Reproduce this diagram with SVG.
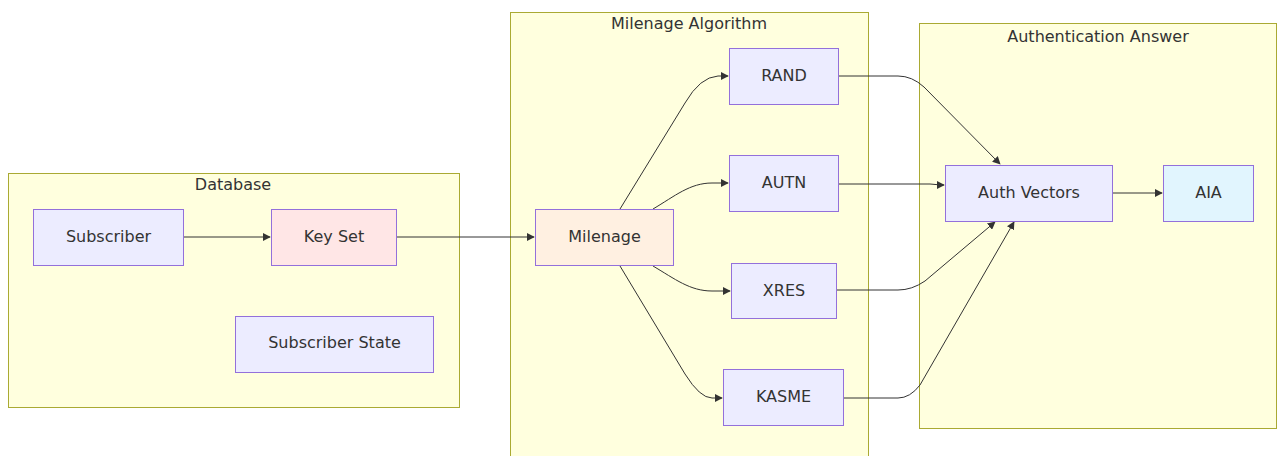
<svg xmlns="http://www.w3.org/2000/svg" width="1277" height="456" viewBox="0 0 1277 456">
<style>
.cluster{fill:#ffffde;stroke:#aaaa33;stroke-width:1}
.node{fill:#ececff;stroke:#9370db;stroke-width:1}
.t{font-family:"DejaVu Sans","Liberation Sans",sans-serif;font-size:16px;fill:#333;text-anchor:middle}
.e{fill:none;stroke:#333;stroke-width:1;marker-end:url(#arr)}
</style>
<defs>
<marker id="arr" viewBox="0 0 10 10" refX="9" refY="5" markerWidth="8" markerHeight="8" markerUnits="userSpaceOnUse" orient="auto">
<path d="M0,0 L10,5 L0,10 z" fill="#333"/>
</marker>
</defs>
<rect width="1277" height="456" fill="#fff"/>
<g id="cluster-database">
<rect class="cluster" x="8.5" y="173.5" width="451" height="234"/>
<text class="t" x="233" y="190">Database</text>
</g>
<g id="cluster-milenage">
<rect class="cluster" x="510.5" y="12.5" width="358" height="470"/>
<text class="t" x="689" y="29">Milenage Algorithm</text>
</g>
<g id="cluster-auth">
<rect class="cluster" x="919.5" y="23.5" width="357" height="405"/>
<text class="t" x="1098" y="42">Authentication Answer</text>
</g>
<g id="edges">
<path class="e" d="M183,237 L270,237"/>
<path class="e" d="M396,237 L534,237"/>
<path class="e" d="M620,209 L685,103 Q700,77 718,76 L728,76"/>
<path class="e" d="M653,209 C675,196 690,183 712,183 L728,183"/>
<path class="e" d="M653,266 C675,279 690,291 712,291 L730,291"/>
<path class="e" d="M620,266 L685,374 Q700,398 712,398 L722,398"/>
<path class="e" d="M838,76 L898,76 Q912,76 924,87 L1000,164"/>
<path class="e" d="M838,184 L930,184 Q940,185 944,185"/>
<path class="e" d="M836,290 L898,290 Q912,290 925,281 L995,222"/>
<path class="e" d="M843,398 L898,398 Q910,398 920,385 L1014,222"/>
<path class="e" d="M1113,193 L1162,193"/>
</g>
<g id="node-subscriber">
<rect class="node" x="33.5" y="209.5" width="150" height="56"/>
<text class="t" x="108.5" y="242">Subscriber</text>
</g>
<g id="node-keyset">
<rect class="node" x="271.5" y="209.5" width="125" height="56" style="fill:#ffe6e6"/>
<text class="t" x="334" y="242">Key Set</text>
</g>
<g id="node-substate">
<rect class="node" x="235.5" y="316.5" width="198" height="56"/>
<text class="t" x="334.5" y="348">Subscriber State</text>
</g>
<g id="node-milenage">
<rect class="node" x="535.5" y="209.5" width="138" height="56" style="fill:#fff0e1"/>
<text class="t" x="604.5" y="242">Milenage</text>
</g>
<g id="node-rand">
<rect class="node" x="729.5" y="48.5" width="109" height="56"/>
<text class="t" x="784" y="81">RAND</text>
</g>
<g id="node-autn">
<rect class="node" x="729.5" y="155.5" width="109" height="56"/>
<text class="t" x="784" y="188">AUTN</text>
</g>
<g id="node-xres">
<rect class="node" x="731.5" y="263.5" width="105" height="55"/>
<text class="t" x="784" y="296">XRES</text>
</g>
<g id="node-kasme">
<rect class="node" x="723.5" y="369.5" width="120" height="56"/>
<text class="t" x="783.5" y="402">KASME</text>
</g>
<g id="node-authvectors">
<rect class="node" x="945.5" y="165.5" width="167" height="56"/>
<text class="t" x="1029" y="198">Auth Vectors</text>
</g>
<g id="node-aia">
<rect class="node" x="1163.5" y="165.5" width="90" height="56" style="fill:#e1f5fe"/>
<text class="t" x="1208.5" y="198">AIA</text>
</g>
</svg>
